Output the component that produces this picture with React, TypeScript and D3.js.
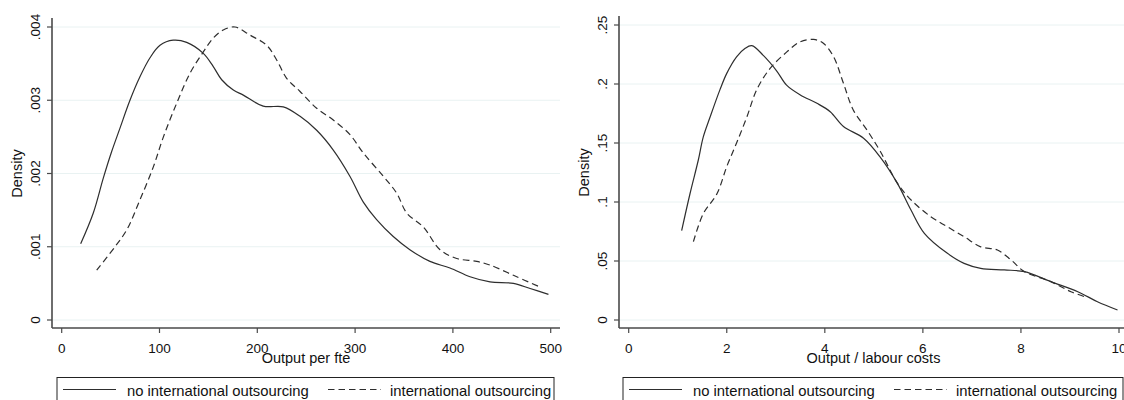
import React from "react";
import * as d3 from "d3";

// ---- Data ----
const fteNoX = [19.4, 32.3, 42.6, 51.1, 59.6, 69.8, 80, 90.3, 100.5, 114, 127.8, 144.8, 155, 163.6, 175.5, 185.7, 206, 226.6, 243.7, 260.7, 277.7, 294.8, 308.4, 322, 339, 356, 376.5, 397, 417.5, 438, 461.9, 479, 497.7];
const fteNoY = [0.00104, 0.00146, 0.00194, 0.0023, 0.00262, 0.003, 0.00332, 0.00358, 0.00375, 0.00382, 0.00379, 0.00364, 0.00346, 0.00328, 0.00314, 0.00307, 0.00292, 0.00291, 0.00278, 0.00259, 0.00232, 0.00196, 0.00161, 0.00137, 0.00114, 0.00096, 0.0008, 0.00071, 0.00059, 0.00052, 0.0005, 0.00043, 0.00035];

const fteIntX = [35.8, 54.5, 66.5, 80, 93.7, 104, 117.6, 131.2, 144.8, 155, 165.2, 177.2, 192.5, 209.6, 219.8, 230, 243.7, 260.7, 277.7, 294.8, 308.4, 329, 342.6, 352.8, 369.7, 386.8, 403.9, 424.3, 438, 461.9, 489];
const fteIntY = [0.00068, 0.001, 0.00123, 0.00164, 0.00209, 0.0025, 0.00296, 0.00337, 0.00366, 0.00385, 0.00396, 0.004, 0.00389, 0.00375, 0.00355, 0.0033, 0.00312, 0.00289, 0.00273, 0.00253, 0.00228, 0.00196, 0.00173, 0.00146, 0.00127, 0.00096, 0.00084, 0.0008, 0.00075, 0.00061, 0.00045];

const lcNoX = [1.08, 1.25, 1.42, 1.52, 1.66, 1.86, 2.0, 2.2, 2.37, 2.51, 2.75, 3.02, 3.22, 3.5, 3.84, 4.11, 4.38, 4.79, 5.13, 5.48, 5.76, 6.03, 6.5, 6.84, 7.18, 7.66, 8.07, 8.61, 9.16, 9.56, 9.97];
const lcNoY = [0.0757, 0.107, 0.1356, 0.155, 0.172, 0.195, 0.209, 0.223, 0.23, 0.2325, 0.224, 0.211, 0.199, 0.1907, 0.1836, 0.1765, 0.164, 0.154, 0.138, 0.1158, 0.093, 0.0735, 0.0565, 0.048, 0.0438, 0.0424, 0.041, 0.0325, 0.024, 0.0155, 0.0085];

const lcIntX = [1.32, 1.52, 1.8, 2.0, 2.2, 2.41, 2.61, 2.88, 3.22, 3.5, 3.77, 3.97, 4.18, 4.38, 4.58, 4.86, 5.13, 5.48, 5.76, 6.16, 6.5, 6.84, 7.18, 7.52, 7.8, 8.07, 8.61, 9.02, 9.34];
const lcIntY = [0.0664, 0.09, 0.107, 0.13, 0.15, 0.172, 0.195, 0.213, 0.227, 0.2358, 0.2378, 0.2345, 0.223, 0.2006, 0.178, 0.161, 0.143, 0.116, 0.1017, 0.0876, 0.079, 0.0706, 0.062, 0.0593, 0.0508, 0.041, 0.0325, 0.024, 0.0192];

const fteXTicks = [0, 100, 200, 300, 400, 500];
const fteYTicks = [0, 0.001, 0.002, 0.003, 0.004];
const fteYLabels = ["0", ".001", ".002", ".003", ".004"];
const lcXTicks = [0, 2, 4, 6, 8, 10];
const lcYTicks = [0, 0.05, 0.1, 0.15, 0.2, 0.25];
const lcYLabels = ["0", ".05", ".1", ".15", ".2", ".25"];

const yTitle = "Density";
const fteXTitle = "Output per fte";
const lcXTitle = "Output / labour costs";
const seriesNames = ["no international outsourcing", "international outsourcing"];

const FONT = "'Liberation Sans', Arial, Helvetica, sans-serif";
const AXIS = "#4a4a4a";
const LINE = "#2e2e2e";
const GRID = "#e9f2f2";

type PanelProps = {
  axisX: number; axisTop: number; axisY: number; axisRight: number;
  xDomain: [number, number]; xRange: [number, number];
  yDomain: [number, number]; yRange: [number, number];
  xTicks: number[]; yTicks: number[]; yLabels: string[];
  xTitle: string;
  noX: number[]; noY: number[]; intX: number[]; intY: number[];
  legendLeft: number; legendRight: number;
};

function Panel(p: PanelProps) {
  const x = d3.scaleLinear().domain(p.xDomain).range(p.xRange);
  const y = d3.scaleLinear().domain(p.yDomain).range(p.yRange);
  const line = d3
    .line<[number, number]>()
    .x((d) => x(d[0]))
    .y((d) => y(d[1]))
    .curve(d3.curveCatmullRom.alpha(0.5));
  const noPts = p.noX.map((v, i) => [v, p.noY[i]] as [number, number]);
  const intPts = p.intX.map((v, i) => [v, p.intY[i]] as [number, number]);
  const yMid = (y(p.yTicks[0]) + y(p.yTicks[p.yTicks.length - 1])) / 2;
  const xMid = (p.axisX + p.axisRight) / 2;
  const lg = p.legendLeft;
  return (
    <g>
      {p.yTicks.map((t, i) => (
        <line key={"g" + i} x1={p.axisX + 1} x2={p.axisRight} y1={y(t)} y2={y(t)} stroke={GRID} strokeWidth={1} />
      ))}
      <path d={line(noPts) || ""} fill="none" stroke={LINE} strokeWidth={1.2} />
      <path d={line(intPts) || ""} fill="none" stroke={LINE} strokeWidth={1.2} strokeDasharray="6.5 4" />
      <line x1={p.axisX} x2={p.axisX} y1={p.axisTop} y2={p.axisY} stroke={AXIS} strokeWidth={1.6} />
      <line x1={p.axisX} x2={p.axisRight} y1={p.axisY} y2={p.axisY} stroke={AXIS} strokeWidth={1.6} />
      {p.yTicks.map((t, i) => (
        <g key={"y" + i}>
          <line x1={p.axisX - 5} x2={p.axisX} y1={y(t)} y2={y(t)} stroke={AXIS} strokeWidth={1.2} />
          <text
            transform={`translate(${p.axisX - 12.5},${y(t)}) rotate(-90)`}
            textAnchor="middle"
            fontSize={13.5}
            fontFamily={FONT}
            fill="#111"
          >
            {p.yLabels[i]}
          </text>
        </g>
      ))}
      {p.xTicks.map((t, i) => (
        <g key={"x" + i}>
          <line x1={x(t)} x2={x(t)} y1={p.axisY} y2={p.axisY + 5} stroke={AXIS} strokeWidth={1.2} />
          <text x={x(t)} y={p.axisY + 24.5} textAnchor="middle" fontSize={13.5} fontFamily={FONT} fill="#111">
            {t}
          </text>
        </g>
      ))}
      <text
        transform={`translate(${p.axisX - 30},${yMid}) rotate(-90)`}
        textAnchor="middle"
        fontSize={14.5}
        fontFamily={FONT}
        fill="#111"
      >
        {yTitle}
      </text>
      <text x={xMid} y={p.axisY + 34.5} textAnchor="middle" fontSize={14.5} fontFamily={FONT} fill="#111">
        {p.xTitle}
      </text>
      <rect x={lg} y={377.5} width={p.legendRight - lg} height={40} fill="none" stroke="#222" strokeWidth={1} />
      <line x1={lg + 6} x2={lg + 59} y1={389.5} y2={389.5} stroke={LINE} strokeWidth={1.2} />
      <text x={lg + 70} y={396} fontSize={14.8} fontFamily={FONT} fill="#111">
        {seriesNames[0]}
      </text>
      <line x1={lg + 271} x2={lg + 324} y1={389.5} y2={389.5} stroke={LINE} strokeWidth={1.2} strokeDasharray="6.5 4" />
      <text x={lg + 333} y={396} fontSize={14.8} fontFamily={FONT} fill="#111">
        {seriesNames[1]}
      </text>
    </g>
  );
}

export default function App() {
  return (
    <svg
      width={1124}
      height={400}
      style={{ position: "absolute", left: 0, top: 0, display: "block", background: "#fff" }}
    >
      <rect x={0} y={0} width={1124} height={400} fill="#fff" />
      <Panel
        axisX={52} axisTop={18} axisY={328} axisRight={560}
        xDomain={[0, 500]} xRange={[61.7, 550.7]}
        yDomain={[0, 0.004]} yRange={[320, 27]}
        xTicks={fteXTicks} yTicks={fteYTicks} yLabels={fteYLabels}
        xTitle={fteXTitle}
        noX={fteNoX} noY={fteNoY} intX={fteIntX} intY={fteIntY}
        legendLeft={57} legendRight={554}
      />
      <Panel
        axisX={619} axisTop={16} axisY={328} axisRight={1128}
        xDomain={[0, 10]} xRange={[628.7, 1119]}
        yDomain={[0, 0.25]} yRange={[320, 25]}
        xTicks={lcXTicks} yTicks={lcYTicks} yLabels={lcYLabels}
        xTitle={lcXTitle}
        noX={lcNoX} noY={lcNoY} intX={lcIntX} intY={lcIntY}
        legendLeft={623} legendRight={1123}
      />
    </svg>
  );
}
